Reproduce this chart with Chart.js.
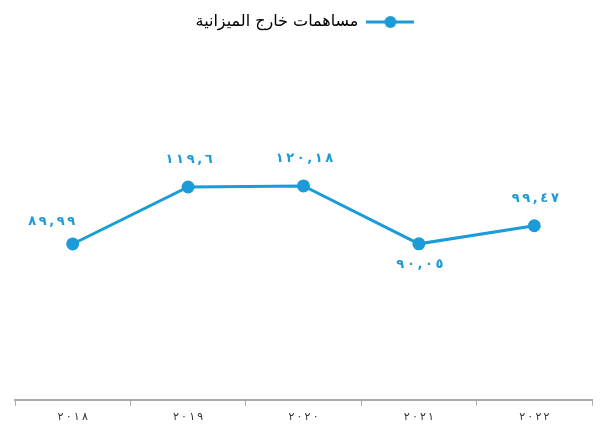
<!DOCTYPE html>
<html>
<head>
<meta charset="utf-8">
<script src="https://cdn.jsdelivr.net/npm/chart.js@4.4.0/dist/chart.umd.min.js"></script>
<style>
  html, body { margin: 0; padding: 0; background: #fff; }
  #wrap { width: 600px; height: 429px; }
</style>
</head>
<body>
<div id="wrap"><canvas id="chart"></canvas></div>
<script>
// data
const years = ["2018", "2019", "2020", "2021", "2022"];
const contributions = [89.99, 119.6, 120.18, 90.05, 99.47];
const labelSide = ["left", "top", "top", "bottom", "top"];

const seriesName = "مساهمات خارج الميزانية";
const blue = "#1b9bd7";

// latin digits -> arabic-indic, dot -> comma
function toArabic(str) {
  const digits = "٠١٢٣٤٥٦٧٨٩";
  return String(str).replace(/[0-9]/g, d => digits[d]).replace(".", ",");
}

// thin spaces between characters, LRM keeps the digits in order
function spaced(str) {
  return "\u200E" + str.split("").join("\u2009\u200E");
}

// legend marker: line with a dot in the middle
const marker = document.createElement("canvas");
marker.width = 48;
marker.height = 14;
(function () {
  const m = marker.getContext("2d");
  m.strokeStyle = blue;
  m.lineWidth = 3;
  m.beginPath();
  m.moveTo(0, 7);
  m.lineTo(48, 7);
  m.stroke();
  m.fillStyle = blue;
  m.beginPath();
  m.arc(24, 7, 6, 0, Math.PI * 2);
  m.fill();
})();

// simple value labels drawn next to each point
const valueLabels = {
  id: "valueLabels",
  afterDatasetsDraw(chart) {
    const ctx = chart.ctx;
    const meta = chart.getDatasetMeta(0);
    ctx.save();
    ctx.font = "bold 13px 'DejaVu Sans', sans-serif";
    ctx.fillStyle = blue;
    ctx.textAlign = "center";
    ctx.textBaseline = "middle";
    meta.data.forEach((pt, i) => {
      const txt = spaced(toArabic(contributions[i]));
      let x = pt.x, y = pt.y;
      if (labelSide[i] === "top") y -= 27;
      else if (labelSide[i] === "bottom") y += 21;
      else { x -= 22; y -= 22; }
      ctx.fillText(txt, x + 1, y);
    });
    ctx.restore();
  }
};

const ctx = document.getElementById("chart").getContext("2d");
const chart = new Chart(ctx, {
  type: "line",
  data: {
    labels: years,
    datasets: [
      {
        label: seriesName,
        data: contributions,
        borderColor: blue,
        backgroundColor: blue,
        borderWidth: 3,
        pointRadius: 5,
        pointHoverRadius: 5,
        fill: false,
        tension: 0,
      },
    ],
  },
  options: {
    responsive: true,
    maintainAspectRatio: false,
    animation: false,
    layout: { padding: { left: 15, right: 5, top: 4, bottom: 0 } },
    plugins: {
      legend: {
        position: "top",
        rtl: true,
        labels: {
          usePointStyle: true,
          pointStyleWidth: 48,
          color: "#222",
          font: { size: 16, family: "'DejaVu Sans', sans-serif" },
          generateLabels() {
            return [{
              text: seriesName,
              fillStyle: blue,
              strokeStyle: blue,
              lineWidth: 0,
              pointStyle: marker,
              datasetIndex: 0,
            }];
          },
        },
      },
      tooltip: { enabled: false },
    },
    scales: {
      x: {
        offset: true,
        grid: {
          offset: true,
          drawOnChartArea: false,
          drawTicks: true,
          tickLength: 6,
          color: "#aaa",
        },
        border: { color: "#aaa", width: 2 },
        ticks: {
          color: "#333",
          font: { size: 11, family: "'DejaVu Sans', sans-serif" },
          padding: 5,
          callback(value) {
            return spaced(toArabic(years[value]));
          },
        },
      },
      y: {
        display: false,
        min: 9,
        max: 196,
      },
    },
  },
  plugins: [valueLabels],
});
</script>
</body>
</html>
